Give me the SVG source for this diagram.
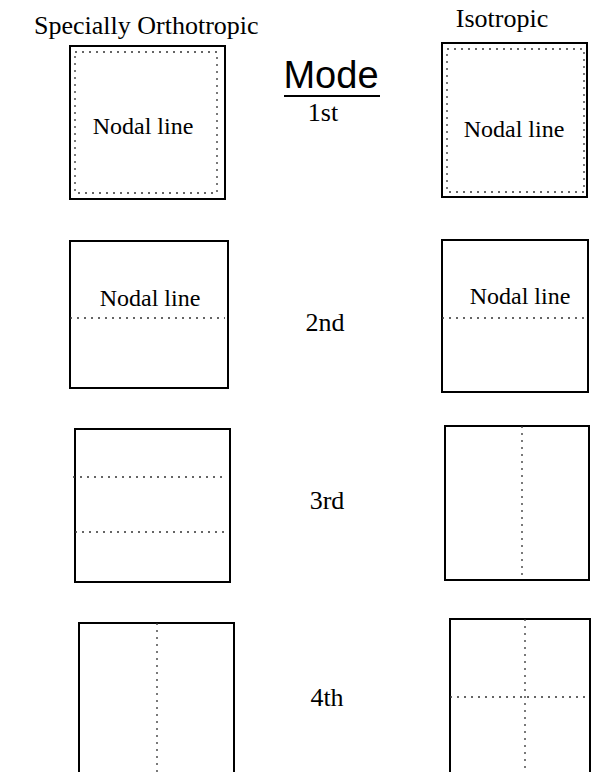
<svg xmlns="http://www.w3.org/2000/svg" width="612" height="772" viewBox="0 0 612 772">
<style>
.t{font-family:"Liberation Serif","Times New Roman",serif;fill:#000}
.h{font-family:"Liberation Serif","Times New Roman",serif;font-size:26px}
.nl{font-family:"Liberation Serif","Times New Roman",serif;font-size:24px;text-anchor:middle}
.m{font-family:"Liberation Serif","Times New Roman",serif;font-size:26px;text-anchor:middle}
.box{fill:none;stroke:#000;stroke-width:2}
.dot{fill:none;stroke:#333;stroke-width:1.3;stroke-dasharray:2 5}
</style>
<rect width="612" height="772" fill="#fff"/>
<g id="headers">
<text class="t h" x="34" y="34">Specially Orthotropic</text>
<text class="t h" x="502" y="27" text-anchor="middle" font-size="22">Isotropic</text>
<text x="331" y="88" font-family="'Liberation Sans',Arial,sans-serif" font-size="38" text-anchor="middle">Mode</text>
<line x1="284" y1="96" x2="380" y2="96" stroke="#000" stroke-width="2"/>
</g>
<g id="mode-labels">
<text class="t m" x="323" y="121" font-size="28">1st</text>
<text class="t m" x="325" y="331">2nd</text>
<text class="t m" x="327" y="509">3rd</text>
<text class="t m" x="327" y="706">4th</text>
</g>
<g id="ortho-1st">
<rect class="box" x="70" y="46" width="155" height="153"/>
<rect class="dot" x="75" y="52" width="142" height="141"/>
<text class="t nl" x="143" y="134">Nodal line</text>
</g>
<g id="iso-1st">
<rect class="box" x="442" y="43" width="145" height="154"/>
<rect class="dot" x="447" y="49" width="137" height="143"/>
<text class="t nl" x="514" y="137">Nodal line</text>
</g>
<g id="ortho-2nd">
<rect class="box" x="70" y="241" width="158" height="147"/>
<line class="dot" x1="70" y1="318" x2="225" y2="318"/>
<text class="t nl" x="150" y="306">Nodal line</text>
</g>
<g id="iso-2nd">
<rect class="box" x="442" y="240" width="146" height="152"/>
<line class="dot" x1="442" y1="318" x2="588" y2="318"/>
<text class="t nl" x="520" y="304">Nodal line</text>
</g>
<g id="ortho-3rd">
<rect class="box" x="75" y="429" width="155" height="153"/>
<line class="dot" x1="73" y1="477" x2="227" y2="477"/>
<line class="dot" x1="75" y1="532" x2="228" y2="532"/>
</g>
<g id="iso-3rd">
<rect class="box" x="445" y="426" width="144" height="154"/>
<line class="dot" x1="522" y1="426" x2="522" y2="580"/>
</g>
<g id="ortho-4th">
<path class="box" d="M79 773V623H234V773"/>
<line class="dot" x1="157" y1="623" x2="157" y2="772"/>
</g>
<g id="iso-4th">
<path class="box" d="M450 773V619H590V773"/>
<line class="dot" x1="525" y1="619" x2="525" y2="772"/>
<line class="dot" x1="450" y1="697" x2="590" y2="697"/>
</g>
</svg>
